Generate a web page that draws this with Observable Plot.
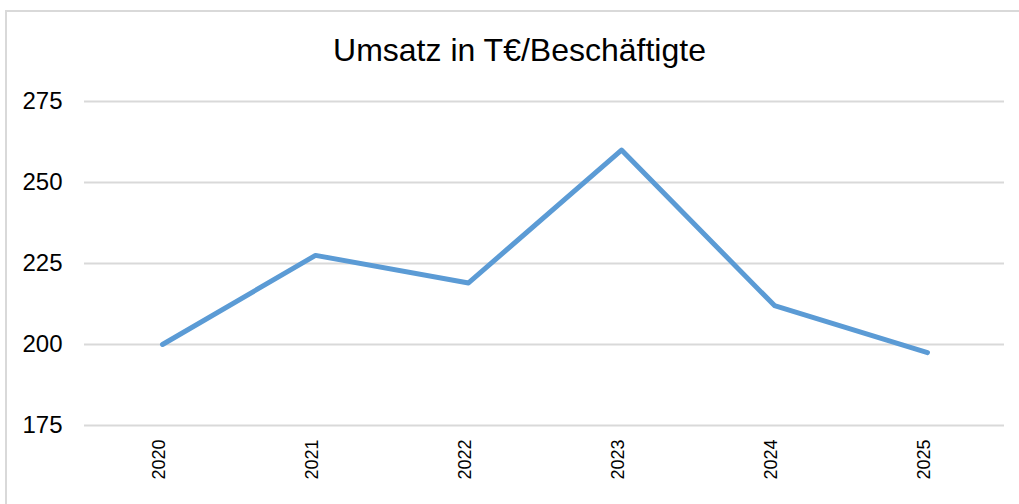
<!DOCTYPE html>
<html>
<head>
<meta charset="utf-8">
<script src="https://cdn.jsdelivr.net/npm/d3@7"></script>
<script src="https://cdn.jsdelivr.net/npm/@observablehq/plot@0.6"></script>
<style>
  html, body { margin: 0; padding: 0; background: #fff; }
  #wrap { position: relative; width: 1019px; height: 504px; overflow: hidden; background: #fff; font-family: "Liberation Sans", Arial, sans-serif; }
  #frame { position: absolute; left: 5px; top: 10px; width: 1040px; height: 520px; border: 2px solid #d9d9d9; box-sizing: border-box; }
  #title { position: absolute; left: 0; top: 35px; width: 1039px; text-align: center; font-size: 32px; line-height: 31px; color: #000; white-space: nowrap; }
  #chart { position: absolute; left: 0; top: 0; }
</style>
</head>
<body>
<div id="wrap">
  <div id="frame"></div>
  <div id="title">Umsatz in T€/Beschäftigte</div>
  <div id="chart"></div>
</div>
<script>
const years = ["2020", "2021", "2022", "2023", "2024", "2025"];
const values = [200, 227.5, 219, 260, 212, 197.5];
const yTicks = [175, 200, 225, 250, 275];

const data = years.map((year, i) => ({year, value: values[i]}));

const chart = Plot.plot({
  width: 1019,
  height: 504,
  marginTop: 101,
  marginBottom: 79,
  marginLeft: 84,
  marginRight: 15,
  style: {fontFamily: "'Liberation Sans', Arial, sans-serif", background: "transparent", color: "#000", overflow: "visible"},
  x: {type: "point", domain: years, padding: 0.5, axis: null},
  y: {domain: [175, 275]},
  marks: [
    Plot.gridY(yTicks, {stroke: "#d9d9d9", strokeOpacity: 1, strokeWidth: 2}),
    Plot.axisY(yTicks, {tickSize: 0, tickPadding: 22, fontSize: 24, label: null, fill: "#000"}),
    Plot.text(years, {x: d => d, frameAnchor: "bottom", text: d => d, rotate: -90, textAnchor: "end", dy: 14, dx: 2, fontSize: 18, fill: "#000"}),
    Plot.line(data, {x: "year", y: "value", stroke: "#5b9bd5", strokeWidth: 5, strokeLinecap: "round", strokeLinejoin: "round"})
  ]
});
document.getElementById("chart").appendChild(chart);
</script>
</body>
</html>
